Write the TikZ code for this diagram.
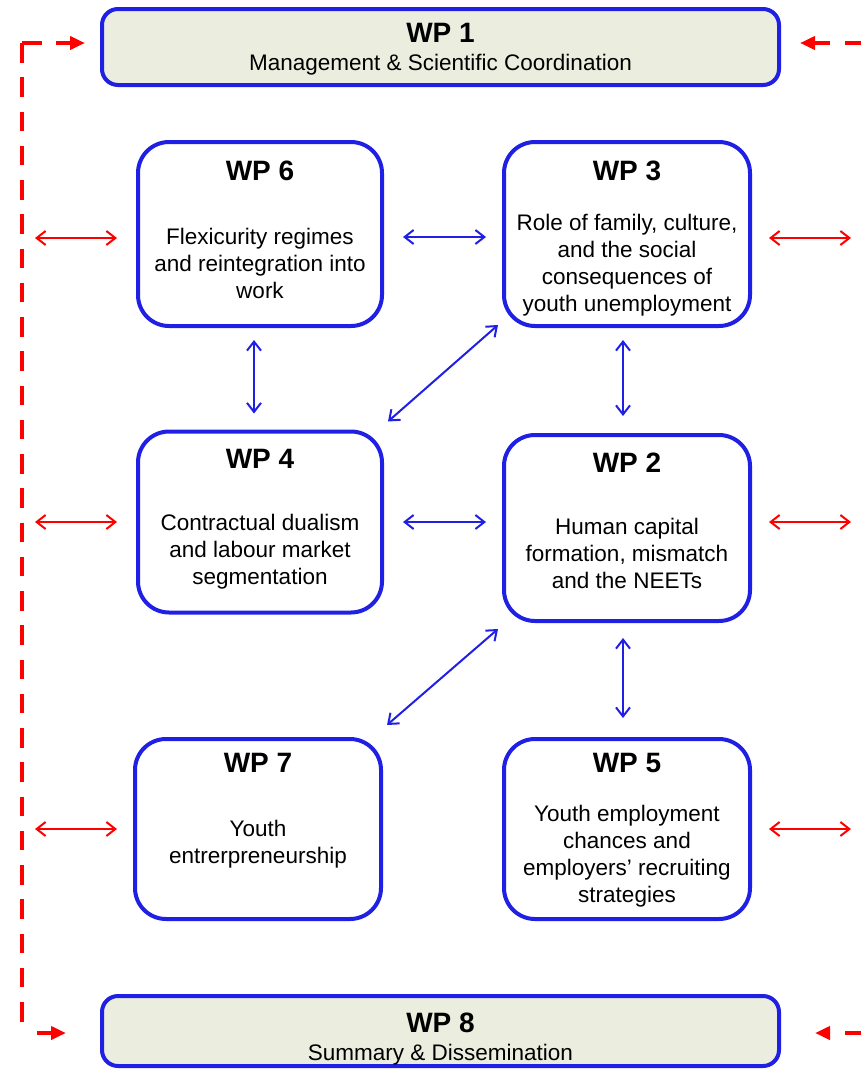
\documentclass[tikz,border=0pt]{standalone}
\usepackage{fontspec}
\setmainfont{Liberation Sans}
\usetikzlibrary{arrows.meta,calc}
\definecolor{wpblue}{RGB}{32,32,228}
\definecolor{wpred}{RGB}{255,0,0}
\definecolor{wpfill}{RGB}{235,238,223}
\tikzset{
  wpbox/.style={draw=wpblue, line width=4pt, rounded corners=31pt, fill=white,
    inner sep=0pt, minimum width=#1},
  wpbox/.default=244pt,
  wpbar/.style={draw=wpblue, line width=4pt, rounded corners=16pt, fill=wpfill,
    inner sep=0pt, minimum width=677pt},
  wptitle/.style={anchor=base, inner sep=0pt, font=\fontsize{28}{32}\selectfont\bfseries},
  wptext/.style={align=center, inner sep=0pt, font=\fontsize{22.5}{27}\selectfont},
  barrow/.style={draw=wpblue, line width=2pt,
    {Straight Barb[length=9pt,width=14pt]}-{Straight Barb[length=9pt,width=14pt]}},
  rarrow/.style={draw=wpred, line width=2pt,
    {Straight Barb[length=9pt,width=14pt]}-{Straight Barb[length=9pt,width=14pt]}},
  rdash/.style={draw=wpred, line width=4pt, dash pattern=on 19.5pt off 14.75pt},
  rtip/.style={-{Triangle[length=15pt,width=13pt]}}
}
\begin{document}
\begin{tikzpicture}[x=1pt,y=-1pt]
\useasboundingbox (0,0) rectangle (861,1071);

% coordination and dissemination bars
\node[wpbar, minimum height=76pt] (wp1) at (440.5,47) {};
\node[wptitle] (t1) at (440.5,42) {WP 1};
\node[wptext, anchor=base] (s1) at (440.5,70) {Management \& Scientific Coordination};

\node[wpbar, minimum height=70pt] (wp8) at (440.5,1031) {};
\node[wptitle] (t8) at (440.5,1032) {WP 8};
\node[wptext, anchor=base] (s8) at (440.5,1060) {Summary \& Dissemination};

% work packages
\node[wpbox, minimum height=184pt] (wp6) at (260,234) {};
\node[wptitle] (t6) at (260,180) {WP 6};
\node[wptext] (b6) at (260,263.5) {Flexicurity regimes\\and reintegration into\\work};

\node[wpbox=246pt, minimum height=184pt] (wp3) at (627,234) {};
\node[wptitle] (t3) at (627,180) {WP 3};
\node[wptext] (b3) at (627,265) {Role of family, culture,\\and the social\\consequences of\\youth unemployment};

\node[wpbox, minimum height=181pt] (wp4) at (260,522) {};
\node[wptitle] (t4) at (260,468) {WP 4};
\node[wptext] (b4) at (260,552) {Contractual dualism\\and labour market\\segmentation};

\node[wpbox=246pt, minimum height=186pt] (wp2) at (627,528) {};
\node[wptitle] (t2) at (627,472) {WP 2};
\node[wptext] (b2) at (627,553) {Human capital\\formation, mismatch\\and the NEETs};

\node[wpbox=246pt, minimum height=180pt] (wp7) at (258,829) {};
\node[wptitle] (t7) at (258,772) {WP 7};
\node[wptext] (b7) at (258,844) {Youth\\entrerpreneurship};

\node[wpbox=246pt, minimum height=180pt] (wp5) at (627,829) {};
\node[wptitle] (t5) at (627,772) {WP 5};
\node[wptext] (b5) at (627,856) {Youth employment\\chances and\\employers' recruiting\\strategies};

% links between work packages
\draw[barrow, shorten <=19pt, shorten >=16pt] ([yshift=-3pt]wp6.east) -- ([yshift=-3pt]wp3.west);
\draw[barrow, shorten <=19pt, shorten >=16pt] (wp4.east) -- (wp4.east -| wp2.west);
\draw[barrow, shorten <=12pt, shorten >=16pt] ([xshift=-6pt]wp6.south) -- ([xshift=-6pt]wp4.north);
\draw[barrow, shorten <=12pt, shorten >=17pt] ([xshift=-4pt]wp3.south) -- ([xshift=-4pt]wp3.south |- wp2.north);
\draw[barrow, shorten <=15pt, shorten >=19pt] ([xshift=-4pt]wp2.south) -- ([xshift=-4pt]wp2.south |- wp5.north);
\draw[barrow] ([xshift=-4pt,yshift=3pt]wp3.south west) -- ([xshift=4pt,yshift=8pt]wp4.north east);
\draw[barrow] ([xshift=-4pt,yshift=-6pt]wp2.south west) -- ([xshift=4pt,yshift=12pt]wp7.north east);

% frame lines towards WP 1 and WP 8
\coordinate (lt) at (22,43);
\coordinate (lb) at (22,1033);
\coordinate (rt) at (864,43);
\coordinate (rb) at (864,1033);
\draw[rdash, rtip] (lt) -- ([xshift=-15pt]wp1.west |- lt);
\draw[rdash] (lt) -- (lb);
\draw[rdash, rtip, dash phase=19.5pt] (lb) -- ([xshift=-34pt]wp8.west |- lb);
\draw[rdash, rtip] (rt) -- ([xshift=19pt]wp1.east |- rt);
\draw[rdash] (rt) -- (rb);
\draw[rdash, rtip] (rb) -- ([xshift=34pt]wp8.east |- rb);

% links from the frame lines to each work package
\draw[rarrow, shorten <=13pt, shorten >=19pt] ([yshift=-4pt]wp6.west -| lt) -- ([yshift=-4pt]wp6.west);
\draw[rarrow, shorten <=13pt, shorten >=19pt] (wp4.west -| lt) -- (wp4.west);
\draw[rarrow, shorten <=13pt, shorten >=16pt] (wp7.west -| lt) -- (wp7.west);
\draw[rarrow, shorten <=17pt, shorten >=13pt] ([yshift=-4pt]wp3.east) -- ([yshift=-4pt]wp3.east -| rt);
\draw[rarrow, shorten <=17pt, shorten >=13pt] ([yshift=6pt]wp2.east) -- ([yshift=6pt]wp2.east -| rt);
\draw[rarrow, shorten <=17pt, shorten >=13pt] (wp5.east) -- (wp5.east -| rt);
\end{tikzpicture}
\end{document}
